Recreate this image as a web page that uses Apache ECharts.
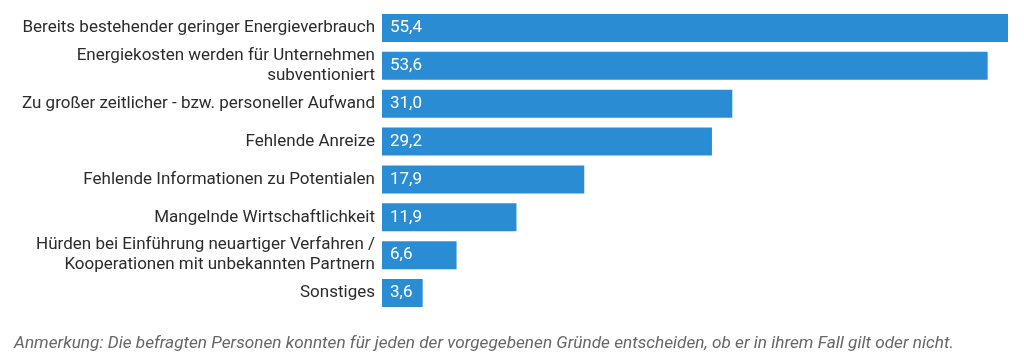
<!DOCTYPE html>
<html>
<head>
<meta charset="utf-8">
<script src="https://cdn.jsdelivr.net/npm/echarts@6/dist/echarts.min.js"></script>
<style>
html,body{margin:0;padding:0;background:#fff;}
#c{width:1024px;height:361px;}
</style>
</head>
<body>
<div id="c"></div>
<script>
const categories = [
  "Bereits bestehender geringer Energieverbrauch",
  "Energiekosten werden für Unternehmen\nsubventioniert",
  "Zu großer zeitlicher - bzw. personeller Aufwand",
  "Fehlende Anreize",
  "Fehlende Informationen zu Potentialen",
  "Mangelnde Wirtschaftlichkeit",
  "Hürden bei Einführung neuartiger Verfahren /\nKooperationen mit unbekannten Partnern",
  "Sonstiges"
];
const values = [55.4, 53.6, 31.0, 29.2, 17.9, 11.9, 6.6, 3.6];
const note = "Anmerkung: Die befragten Personen konnten für jeden der vorgegebenen Gründe entscheiden, ob er in ihrem Fall gilt oder nicht.";

const chart = echarts.init(document.getElementById('c'), null, {renderer: 'canvas'});
chart.setOption({
  animation: false,
  backgroundColor: '#fff',
  textStyle: {fontFamily: 'Roboto'},
  grid: {left: 382, right: 16, top: 9, bottom: 49, containLabel: false},
  xAxis: {
    type: 'value', min: 0, max: 55.4, show: false
  },
  yAxis: {
    type: 'category', data: categories, inverse: true,
    axisLine: {show: false}, axisTick: {show: false}, splitLine: {show: false},
    axisLabel: {
      margin: 7, color: '#2b2b2b', fontSize: 17, fontFamily: 'Roboto',
      lineHeight: 20, align: 'right'
    }
  },
  series: [{
    type: 'bar', data: values, barCategoryGap: '26%',
    itemStyle: {color: '#2a8dd4'},
    label: {
      show: true, position: 'insideLeft', distance: 8,
      color: '#fff', fontSize: 17, fontFamily: 'Roboto',
      formatter: p => p.value.toFixed(1).replace('.', ',')
    }
  }],
  graphic: [{
    type: 'text', left: 14, top: 335,
    style: {
      text: note, fill: '#666', fontSize: 17.2, fontFamily: 'Roboto',
      fontStyle: 'italic'
    }
  }]
});
</script>
</body>
</html>
